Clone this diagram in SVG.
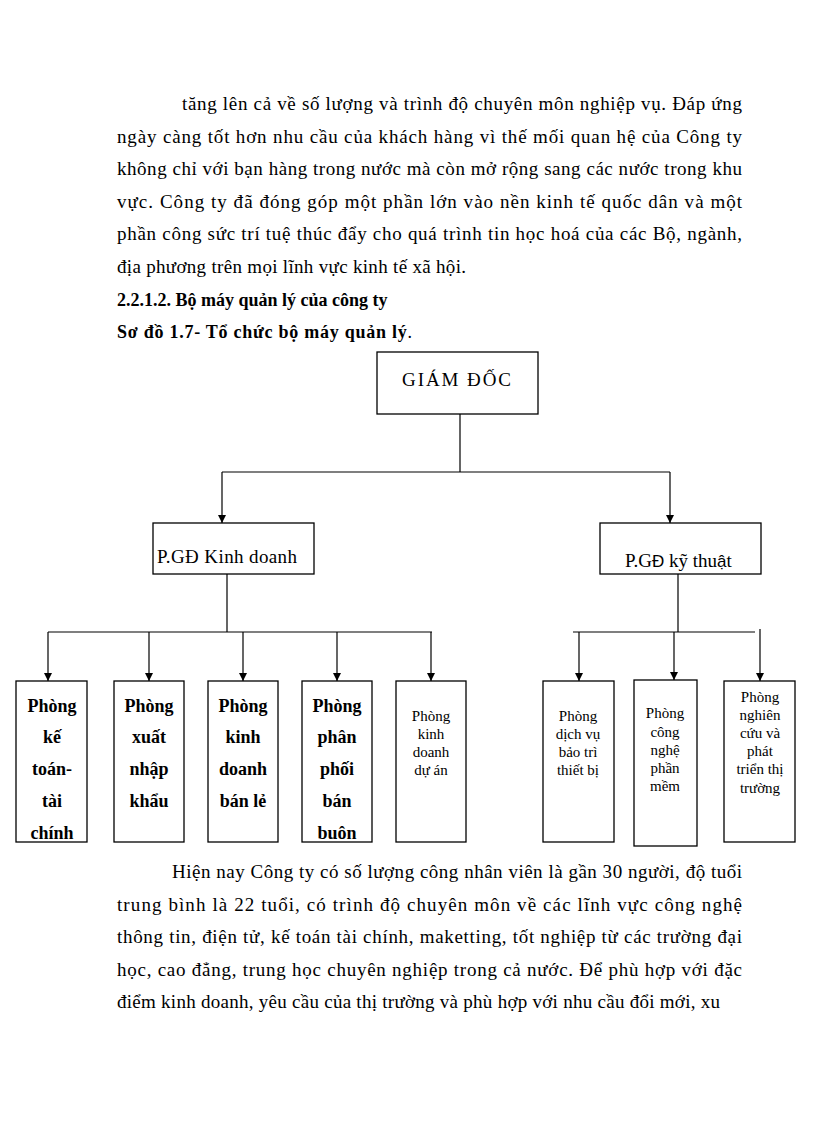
<svg xmlns="http://www.w3.org/2000/svg" width="816" height="1123" viewBox="0 0 816 1123">
<defs>
<style>
.t{font-family:"Liberation Serif","Times New Roman",serif;font-size:19px;fill:#000}
.b{font-weight:bold}
.box{fill:#fff;stroke:#000;stroke-width:1.3}
.ln{fill:none;stroke:#000;stroke-width:1.2}
.n1{font-family:"Liberation Serif","Times New Roman",serif;font-size:18px;font-weight:bold;fill:#000;text-anchor:middle}
.n2{font-family:"Liberation Serif","Times New Roman",serif;font-size:15px;fill:#000;text-anchor:middle}
.s{font-family:"Liberation Sans",Arial,sans-serif}
</style>
<marker id="ah" viewBox="0 0 10 10" refX="10" refY="5" markerWidth="8" markerHeight="8" markerUnits="userSpaceOnUse" orient="auto">
<path d="M0,0 L10,5 L0,10 z" fill="#000"/>
</marker>
</defs>
<rect width="816" height="1123" fill="#fff"/>

<g id="para1" class="t">
<text x="182" y="110" textLength="560" lengthAdjust="spacing">tăng lên cả về số lượng và trình độ chuyên môn nghiệp vụ. Đáp ứng</text>
<text x="117" y="143" textLength="625" lengthAdjust="spacing">ngày càng tốt hơn nhu cầu của khách hàng vì thế mối quan hệ của Công ty</text>
<text x="117" y="175" textLength="625" lengthAdjust="spacing">không chỉ với bạn hàng trong nước mà còn mở rộng sang các nước trong khu</text>
<text x="117" y="208" textLength="625" lengthAdjust="spacing">vực. Công ty đã đóng góp một phần lớn vào nền kinh tế quốc dân và một</text>
<text x="117" y="240" textLength="625" lengthAdjust="spacing">phần công sức trí tuệ thúc đẩy cho quá trình tin học hoá của các Bộ, ngành,</text>
<text x="117" y="273" textLength="349" lengthAdjust="spacing">địa phương trên mọi lĩnh vực kinh tế xã hội.</text>
</g>
<g id="headings" class="t b">
<text x="117" y="306" font-size="18">2.2.1.2. Bộ máy quản lý của công ty</text>
<text x="117" y="338" font-size="18" textLength="295" lengthAdjust="spacing">Sơ đồ 1.7- Tổ chức bộ máy quản lý<tspan font-weight="normal">.</tspan></text>
</g>

<g id="connectors">
<path class="ln" d="M460,412 V472 M222,472 H670 M227,574 V632 M48,632 H432 M678,574 V632 M573,632 H755"/>
<path class="ln" marker-end="url(#ah)" d="M222,472 V523"/>
<path class="ln" marker-end="url(#ah)" d="M670,472 V523"/>
<path class="ln" marker-end="url(#ah)" d="M48,632 V681"/>
<path class="ln" marker-end="url(#ah)" d="M149,632 V681"/>
<path class="ln" marker-end="url(#ah)" d="M243,632 V681"/>
<path class="ln" marker-end="url(#ah)" d="M337,632 V681"/>
<path class="ln" marker-end="url(#ah)" d="M431,632 V681"/>
<path class="ln" marker-end="url(#ah)" d="M579,632 V681"/>
<path class="ln" marker-end="url(#ah)" d="M674,632 V680"/>
<path class="ln" marker-end="url(#ah)" d="M760,629 V681"/>
</g>

<g id="giam-doc">
<rect class="box" x="377" y="352" width="161" height="62"/>
<text class="t" x="402" y="386" font-size="20" textLength="109" lengthAdjust="spacing">GIÁM  ĐỐC</text>
</g>
<g id="pgd-kinh-doanh">
<rect class="box" x="153" y="523" width="161" height="51"/>
<text class="t" x="157" y="563" textLength="140" lengthAdjust="spacing">P.GĐ Kinh  doanh</text>
</g>
<g id="pgd-ky-thuat">
<rect class="box" x="600" y="523" width="161" height="51"/>
<text class="t" x="625" y="567">P.G<tspan class="s" font-size="17">Đ</tspan> kỹ thu<tspan class="s" font-size="17">ậ</tspan>t</text>
</g>

<g id="phong-ke-toan">
<rect class="box" x="16" y="681" width="71" height="161"/>
<text class="n1" x="52" y="712">Phòng</text>
<text class="n1" x="52" y="743">kế</text>
<text class="n1" x="52" y="775">toán-</text>
<text class="n1" x="52" y="807">tài</text>
<text class="n1" x="52" y="839">chính</text>
</g>
<g id="phong-xnk">
<rect class="box" x="114" y="681" width="70" height="161"/>
<text class="n1" x="149" y="712">Phòng</text>
<text class="n1" x="149" y="743">xuất</text>
<text class="n1" x="149" y="775">nhập</text>
<text class="n1" x="149" y="807">khẩu</text>
</g>
<g id="phong-kd-ban-le">
<rect class="box" x="208" y="681" width="70" height="161"/>
<text class="n1" x="243" y="712">Phòng</text>
<text class="n1" x="243" y="743">kinh</text>
<text class="n1" x="243" y="775">doanh</text>
<text class="n1" x="243" y="807">bán lẻ</text>
</g>
<g id="phong-phan-phoi">
<rect class="box" x="302" y="681" width="70" height="161"/>
<text class="n1" x="337" y="712">Phòng</text>
<text class="n1" x="337" y="743">phân</text>
<text class="n1" x="337" y="775">phối</text>
<text class="n1" x="337" y="807">bán</text>
<text class="n1" x="337" y="839">buôn</text>
</g>
<g id="phong-kd-du-an">
<rect class="box" x="396" y="681" width="70" height="161"/>
<text class="n2" x="431" y="721">Phòng</text>
<text class="n2" x="431" y="739">kinh</text>
<text class="n2" x="431" y="757">doanh</text>
<text class="n2" x="431" y="775">dự án</text>
</g>
<g id="phong-dich-vu">
<rect class="box" x="543" y="681" width="71" height="161"/>
<text class="n2" x="578" y="721">Phòng</text>
<text class="n2" x="578" y="739">dịch vụ</text>
<text class="n2" x="578" y="757">bảo trì</text>
<text class="n2" x="578" y="775">thiết  bị</text>
</g>
<g id="phong-cong-nghe">
<rect class="box" x="634" y="680" width="63" height="166"/>
<text class="n2" x="665" y="718">Phòng</text>
<text class="n2" x="665" y="737">công</text>
<text class="n2" x="665" y="755">nghệ</text>
<text class="n2" x="665" y="773">phần</text>
<text class="n2" x="665" y="791">mềm</text>
</g>
<g id="phong-nghien-cuu">
<rect class="box" x="724" y="681" width="71" height="161"/>
<text class="n2" x="760" y="702">Phòng</text>
<text class="n2" x="760" y="720">nghiên</text>
<text class="n2" x="760" y="738">cứu và</text>
<text class="n2" x="760" y="756">phát</text>
<text class="n2" x="760" y="774">triển thị</text>
<text class="n2" x="760" y="793">trường</text>
</g>

<g id="para2" class="t">
<text x="172" y="878" textLength="570" lengthAdjust="spacing">Hiện nay Công ty có số lượng công nhân viên là gần 30 người, độ tuổi</text>
<text x="117" y="911" textLength="625" lengthAdjust="spacing">trung bình là 22 tuổi, có trình độ chuyên môn về các lĩnh vực công nghệ</text>
<text x="117" y="943" textLength="625" lengthAdjust="spacing">thông tin, điện tử, kế toán tài chính, maketting, tốt nghiệp từ các trường đại</text>
<text x="117" y="976" textLength="625" lengthAdjust="spacing">học, cao đẳng, trung học chuyên nghiệp trong cả nước. Để phù hợp với đặc</text>
<text x="117" y="1008" textLength="603" lengthAdjust="spacing">điểm kinh doanh, yêu cầu của thị trường và phù hợp với nhu cầu đổi mới, xu</text>
</g>
</svg>
